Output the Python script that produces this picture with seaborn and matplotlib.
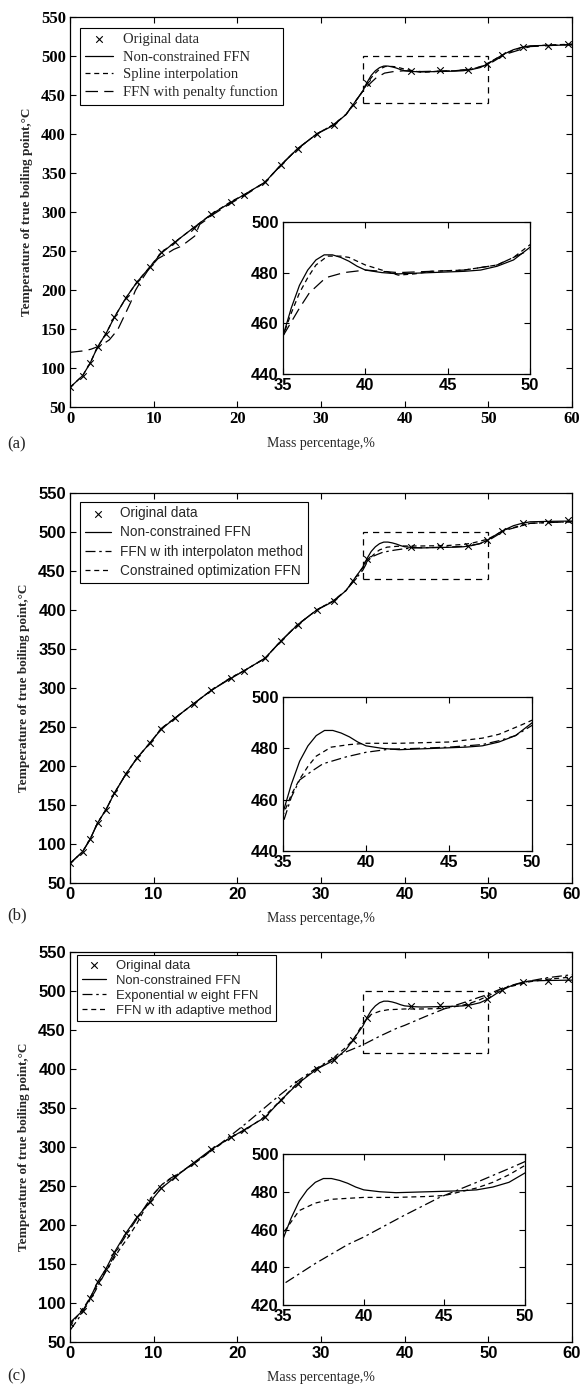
# TBP curves of a crude oil: three panels, each with a zoomed inset (35-50 %)

import matplotlib
matplotlib.use("Agg")
import pandas as pd
import matplotlib.pyplot as plt
import seaborn as sns
from matplotlib.patches import Rectangle

# -----------------------------------------
# Data
# -----------------------------------------

orig_x = [0, 1.5, 2.4, 3.3, 4.3, 5.3, 6.7, 8.0, 9.6, 10.9, 12.5, 14.8, 16.9, 19.2, 20.8,
          23.3, 25.2, 27.2, 29.5, 31.5, 33.8, 35.5, 40.8, 44.2, 47.6, 49.8, 51.6, 54.1, 57.1, 59.5]
orig_y = [75, 90, 106, 127, 144, 165, 190, 210, 230, 248, 261, 280, 297, 313, 322,
          338, 360, 381, 400, 412, 437, 465, 481, 482, 482, 490, 501, 512, 513, 515]

# non-constrained FFN (same in every panel)
ffn_x = [0, 1.5, 2.4, 3.3, 4.3, 5.3, 6.7, 8, 9.6, 10.9, 12.5, 14.8, 16.9, 19.2, 20.8, 23.3, 25.2,
         27.2, 29.5, 31.5, 33, 34, 35, 35.5, 36, 36.5, 37, 37.5, 38, 38.5, 39, 39.5, 40, 41, 42,
         44, 46, 47, 48, 49, 50, 51, 52, 53, 54, 55, 57, 60]
ffn_y = [75, 90, 106, 127, 144, 165, 190, 210, 230, 247, 261, 280, 297, 312, 322, 338, 360,
         381, 400, 411, 425, 440, 455, 466, 475, 481, 485, 487, 487, 486, 484.5, 482.5, 481, 480, 479.5,
         480, 480.5, 481, 482.5, 485, 490, 497, 503, 508, 511, 513, 513.5, 514]

# panel (a)
spline_x = [0, 1.5, 2.4, 3.3, 4.3, 5.3, 6.7, 8, 9.6, 10.9, 12.5, 14.8, 16.9, 19.2, 20.8, 23.3, 25.2,
            27.2, 29.5, 31.5, 33, 34, 35, 35.5, 36, 36.5, 37, 37.7, 38.5, 39, 40, 41, 42, 43, 44,
            46, 48, 49, 50, 52, 54, 57, 60]
spline_y = [75, 90, 106, 127, 144, 165, 190, 210, 230, 248, 261, 280, 297, 313, 322, 338, 360,
            381, 400, 412, 425, 440, 455, 464, 472, 478, 483, 486.5, 486.5, 486, 483, 481, 479, 479.5, 480.5,
            481, 483, 486, 491, 503, 511, 514, 515]
penalty_x = [0, 1.7, 2.5, 3.5, 4.0, 4.7, 5.7, 6.5, 7.25, 7.8, 8.5, 9.5, 10.5, 11.8, 12.4, 13.3, 14.9,
             15.5, 16.3, 17, 19.2, 21, 23.3, 25.2, 27.2, 29.5, 31.5, 33, 34, 35, 36, 36.6, 37.6,
             38.7, 40, 42, 44, 46, 48, 50, 52, 55, 57, 60]
penalty_y = [120, 122, 124, 128, 131, 136, 149, 167, 184, 199, 212, 228, 240, 248, 252, 256, 269,
             284, 290, 296, 311, 322, 338, 360, 381, 400, 412, 425, 440, 455, 466, 472, 478,
             480, 481, 480, 480.5, 481, 483, 489, 502, 512, 513, 515]

# panel (b)
interp_x = [0, 1.5, 2.4, 3.3, 4.3, 5.3, 6.7, 8, 9.6, 10.9, 12.5, 14.8, 16.9, 19.2, 20.8, 23.3, 25.2,
            27.2, 29.5, 31.5, 33, 34, 35, 35.5, 36, 36.7, 37.4, 38.8, 40, 41.4, 43, 45, 47, 48, 49,
            50, 52, 55, 57, 60]
interp_y = [75, 90, 106, 127, 144, 165, 190, 210, 230, 248, 261, 280, 297, 313, 322, 338, 360,
            381, 400, 412, 425, 438, 451, 461, 467.7, 471, 474, 476.7, 478.5, 479.7, 480, 480.5, 481.5, 483, 485,
            489, 502, 511, 512, 513]
constr_x = [0, 1.5, 2.4, 3.3, 4.3, 5.3, 6.7, 8, 9.6, 10.9, 12.5, 14.8, 16.9, 19.2, 20.8, 23.3, 25.2,
            27.2, 29.5, 31.5, 33, 34, 35, 35.5, 36, 36.5, 37, 37.9, 39, 40, 42, 45, 47, 48, 49.3,
            50, 52, 55, 57, 60]
constr_y = [75, 90, 106, 127, 144, 165, 190, 210, 230, 248, 261, 280, 297, 313, 322, 338, 360,
            381, 400, 412, 425, 440, 454, 462, 468, 473, 477, 480.5, 481.5, 482, 482, 482.5, 484, 485.5, 489,
            491, 503, 511, 512, 513]

# panel (c)
expw_x = [0, 1, 2, 3, 4, 5, 6, 7, 8, 9, 10, 11, 12, 13, 15, 17, 19, 21, 23, 25, 27, 29, 31, 33,
          35, 37, 39, 40, 42.4, 44.7, 47, 49.2, 50, 52, 55, 57, 60]
expw_y = [65, 80, 97, 115, 135, 155, 175, 192, 208, 224, 240, 252, 260, 266, 281, 296, 313, 330,
          348, 366, 383, 398, 411, 422, 431, 442, 452, 456, 467, 477, 485, 493, 496, 505, 513, 517, 521]
adapt_x = [0, 1, 2, 3, 4, 5, 6, 7, 8, 9, 10, 11, 12, 13, 15, 17, 19, 21, 23, 25, 27, 29, 31, 33,
           34, 35, 36, 37, 38, 40, 42, 44, 45, 46, 47, 48, 49, 50, 52, 55, 57, 60]
adapt_y = [70, 85, 100, 118, 136, 153, 170, 185, 202, 222, 240, 252, 259, 266, 280, 296, 311, 322,
           337, 358, 380, 397, 410, 428, 440, 458, 470, 474, 476, 477, 477, 477.5, 478, 480, 482, 485, 489,
           494, 504, 512, 515, 518]

x_ticks = [0, 10, 20, 30, 40, 50, 60]
y_ticks = [50, 100, 150, 200, 250, 300, 350, 400, 450, 500, 550]
inset_xlim = [35, 50]
inset_ylims = [[440, 500], [440, 500], [420, 500]]

# -----------------------------------------
# Style
# -----------------------------------------

sns.set_theme(style="ticks")
plt.rcParams["font.family"] = ["Liberation Sans", "DejaVu Sans"]

SERIF = "Liberation Serif"
SANS = "Liberation Sans"

fig = plt.figure(figsize=(5.82, 13.87), dpi=100)

main_boxes = [[0.1203, 0.7066, 0.8625, 0.2812],
              [0.1203, 0.3634, 0.8625, 0.2812],
              [0.1203, 0.0324, 0.8625, 0.2812]]
inset_boxes = [[0.4863, 0.7304, 0.4244, 0.1096],
               [0.4863, 0.3864, 0.4280, 0.1110],
               [0.4863, 0.0591, 0.4160, 0.1089]]
panel_y = [0.677, 0.337, 0.005]

LONG = (0, (10, 5))
SHORT = (0, (4, 3))
DASHDOT = (0, (8, 3, 2, 3))

panels = [
    ("(a)", SERIF, [
        ("Non-constrained FFN", ffn_x, ffn_y, "-"),
        ("Spline interpolation", spline_x, spline_y, SHORT),
        ("FFN with penalty function", penalty_x, penalty_y, LONG),
    ]),
    ("(b)", SANS, [
        ("Non-constrained FFN", ffn_x, ffn_y, "-"),
        ("FFN w ith interpolaton method", interp_x, interp_y, DASHDOT),
        ("Constrained optimization FFN", constr_x, constr_y, SHORT),
    ]),
    ("(c)", SANS, [
        ("Non-constrained FFN", ffn_x, ffn_y, "-"),
        ("Exponential w eight FFN", expw_x, expw_y, DASHDOT),
        ("FFN w ith adaptive method", adapt_x, adapt_y, SHORT),
    ]),
]
legend_anchor = [(0.02, 0.972), (0.02, 0.978), (0.014, 0.992)]
legend_size = [10.5, 9.8, 9.4]
legend_spacing = [0.3, 0.38, 0.22]


def style_axes(ax):
    for s in ax.spines.values():
        s.set_color("black")
        s.set_linewidth(0.9)
    ax.tick_params(direction="in", top=True, right=True, length=4, width=0.8,
                   colors="black", pad=3)


def draw_curves(ax, curves):
    for label, xs, ys, ls in curves:
        df = pd.DataFrame({"x": xs, "y": ys})
        sns.lineplot(data=df, x="x", y="y", ax=ax, color="black", lw=0.9,
                     linestyle=ls, label=label, estimator=None, sort=False)


for i, (tag, tick_font, curves) in enumerate(panels):
    ax = fig.add_axes(main_boxes[i])
    sns.scatterplot(x=orig_x, y=orig_y, ax=ax, marker="x", color="black", s=22,
                    linewidth=0.8, label="Original data", zorder=5)
    draw_curves(ax, curves)

    ax.add_patch(Rectangle((inset_xlim[0], inset_ylims[i][0]),
                           inset_xlim[1] - inset_xlim[0],
                           inset_ylims[i][1] - inset_ylims[i][0],
                           fill=False, ls=(0, (5, 4)), lw=0.9, color="black"))

    ax.set_xlim(0, 60)
    ax.set_ylim(50, 550)
    ax.set_xticks(x_ticks)
    ax.set_yticks(y_ticks)
    ax.set_xticklabels(x_ticks, fontfamily=tick_font, fontweight="bold", fontsize=12)
    ax.set_yticklabels(y_ticks, fontfamily=tick_font, fontweight="bold", fontsize=12)
    style_axes(ax)

    ax.set_xlabel("Mass percentage,%", fontfamily=SERIF, fontsize=10, labelpad=7)
    ax.set_ylabel("Temperature of true boiling point,\u00b0C", fontfamily=SERIF,
                  fontsize=9.5, fontweight="bold", labelpad=6)

    leg = ax.legend(loc="upper left", bbox_to_anchor=legend_anchor[i], borderaxespad=0,
                    frameon=True, fancybox=False, edgecolor="black", framealpha=1,
                    handlelength=1.9, handletextpad=0.7, labelspacing=legend_spacing[i],
                    borderpad=0.35, prop={"family": tick_font, "size": legend_size[i]})
    leg.get_frame().set_linewidth(0.8)

    fig.text(0.012, panel_y[i], tag, fontfamily=SERIF, fontsize=12)

    # zoomed inset
    axin = fig.add_axes(inset_boxes[i])
    draw_curves(axin, curves)
    if axin.get_legend() is not None:
        axin.get_legend().remove()
    axin.set_xlim(*inset_xlim)
    axin.set_ylim(*inset_ylims[i])
    axin.set_xticks([35, 40, 45, 50])
    axin.set_yticks(list(range(inset_ylims[i][0], inset_ylims[i][1] + 1, 20)))
    axin.set_xticklabels([35, 40, 45, 50], fontweight="bold", fontsize=12)
    axin.set_yticklabels(list(range(inset_ylims[i][0], inset_ylims[i][1] + 1, 20)),
                         fontweight="bold", fontsize=12)
    axin.set_xlabel("")
    axin.set_ylabel("")
    style_axes(axin)

fig.savefig("out.png", dpi=100)
